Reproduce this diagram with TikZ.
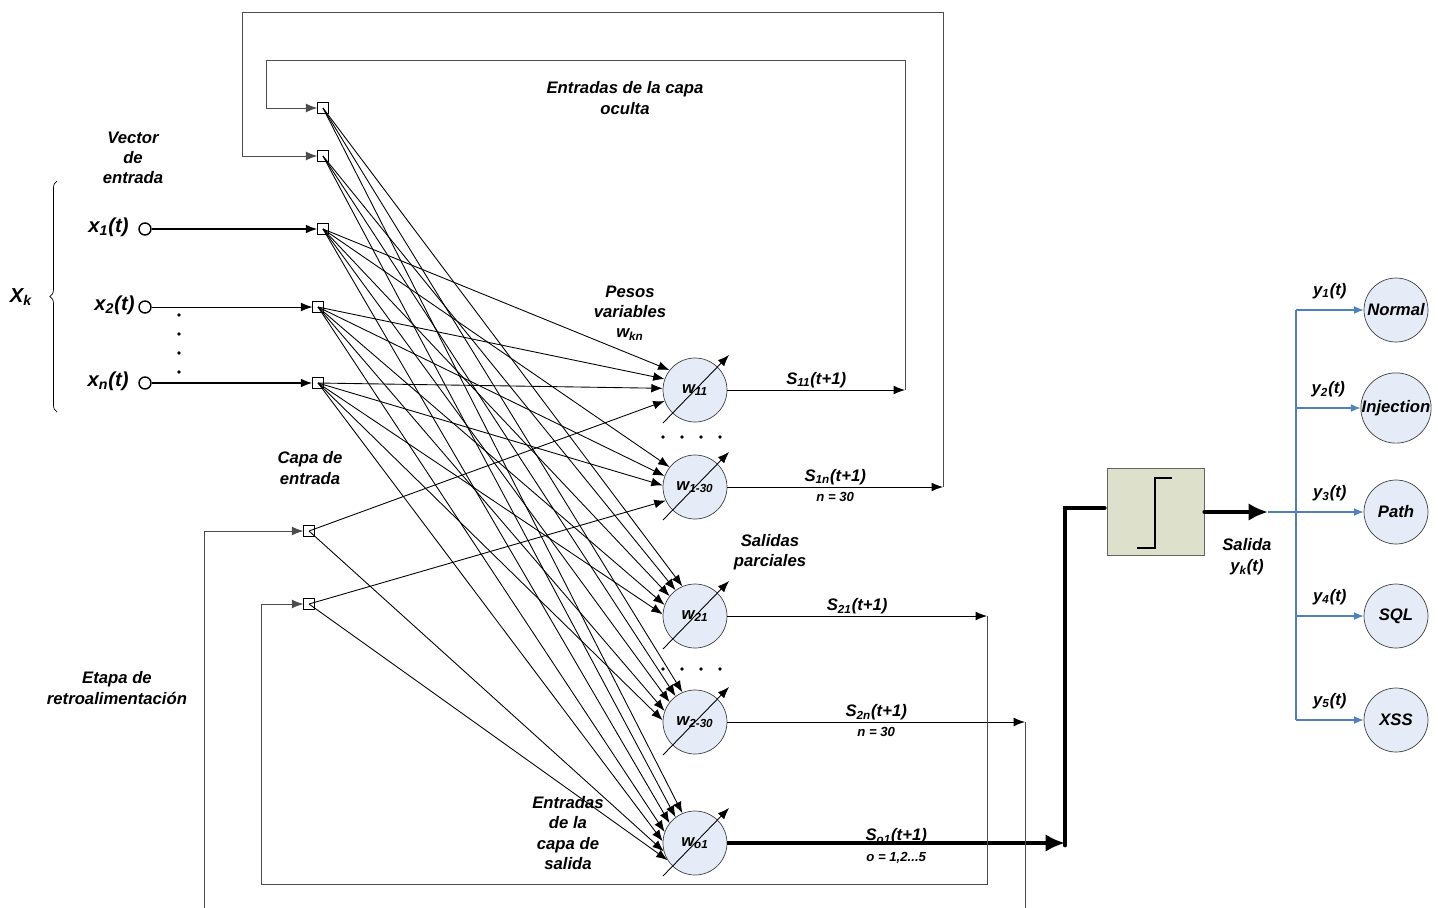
\documentclass[tikz,border=0pt]{standalone}
\usepackage{fontspec}
\setmainfont{Liberation Sans}
\usetikzlibrary{arrows.meta, positioning, calc, decorations.pathreplacing}
\definecolor{nfill}{RGB}{230,236,247}
\definecolor{blkfill}{RGB}{221,224,203}
\definecolor{outblue}{RGB}{79,129,189}
\newcommand{\idx}[1]{\textsubscript{#1}}

\begin{document}
\begin{tikzpicture}[
    x=0.02cm, y=-0.02cm,
    lbl/.style={font=\fontsize{9.5}{11.5}\selectfont\bfseries\itshape, align=center, inner sep=0pt},
    var/.style={font=\fontsize{11.5}{13}\selectfont\bfseries\itshape, inner sep=0pt},
    small/.style={font=\fontsize{7.5}{9}\selectfont\bfseries\itshape, inner sep=0pt},
    sq/.style={draw, minimum size=0.21cm, inner sep=0pt},
    inp/.style={draw, circle, thick, minimum size=0.24cm, inner sep=0pt},
    neuron/.style={draw=black!75, circle, fill=nfill, minimum size=1.28cm, inner sep=0pt, font=\fontsize{9.5}{11}\selectfont\bfseries\itshape},
    arrow/.style={-{Latex[length=6.5pt,width=5pt]}, line width=0.5pt},
    loop/.style={arrow, draw=black!70},
    bigarrow/.style={-{Latex[length=11pt,width=10pt]}, line width=2.8pt},
    blue arrow/.style={-{Latex[length=5.5pt,width=4.5pt]}, draw=outblue, line width=0.7pt}
]
    \path[use as bounding box] (0,0) rectangle (1438,907);
    \clip (0,0) rectangle (1438,907);

    \node[sq] (h1) at (323,108) {};
    \node[sq] (h2) at (323,156) {};
    \node[sq] (s1) at (323,229) {};
    \node[sq] (s2) at (318,307) {};
    \node[sq] (sn) at (318,383) {};
    \node[sq] (f1) at (309,531) {};
    \node[sq] (f2) at (309,604) {};

    \node[inp] (x1) at (145,229) {};
    \node[inp] (x2) at (145,307) {};
    \node[inp] (xn) at (145,383) {};
    \node[var, anchor=east] (lx1) at (129,227) {x\idx{1}(t)};
    \node[var, anchor=east] (lx2) at (135,305) {x\idx{2}(t)};
    \node[var, anchor=east] (lxn) at (129,381) {x\idx{n}(t)};
    \node[var] (xk) at (21,297) {X\idx{k}};
    \draw[decorate, decoration={brace, amplitude=4pt}] (57,412) -- (57,181);
    \foreach \y in {315,334,353,372} \fill (179,\y) circle (1.1pt);

    \draw[arrow, line width=1.1pt] (x1) -- (s1);
    \draw[arrow] (x2) -- (s2);
    \draw[arrow, line width=1.1pt] (xn) -- (sn);

    \node[neuron] (n11) at (695,390) {w\idx{11}};
    \node[neuron] (n130) at (695,487) {w\idx{1-30}};
    \node[neuron] (n21) at (695,616) {w\idx{21}};
    \node[neuron] (n230) at (695,722) {w\idx{2-30}};
    \node[neuron] (no1) at (695,843) {w\idx{o1}};
    \foreach \x in {663,682,701,720} {
        \fill (\x,437) circle (1.1pt);
        \fill (\x,669) circle (1.1pt);
    }

    \foreach \s/\a in {s1/142,s2/160,sn/177}
        \foreach \n in {n11,n130,n21,n230,no1}
            \draw[arrow] (\s.center) -- (\n.\a);
    \foreach \s/\a in {h1/113,h2/127}
        \foreach \n in {n21,n230,no1}
            \draw[arrow] (\s.center) -- (\n.\a);
    \draw[arrow] (f1.center) -- (n11.200);
    \draw[arrow] (f1.center) -- (no1.195);
    \draw[arrow] (f2.center) -- (n130.205);
    \draw[arrow] (f2.center) -- (no1.212);
    \foreach \n in {n11,n130,n21,n230,no1}
        \draw[arrow] ($(\n)+(-32,33)$) -- ($(\n)+(34,-35)$);

    \coordinate (c11) at (905,390);
    \coordinate (c1n) at (943,487);
    \coordinate (c21) at (987,616);
    \coordinate (c2n) at (1025,722);
    \coordinate (cout) at (1065,843);
    \draw[arrow] (n11) -- node[lbl, above=1pt] (ls11) {S\idx{11}(t+1)} (c11);
    \draw[arrow] (n130) -- node[lbl, above=1pt] (ls1n) {S\idx{1n}(t+1)}
        node[small, below=3pt] (ln1) {n = 30} (c1n);
    \draw[arrow] (n21) -- node[lbl, above=1pt] (ls21) {S\idx{21}(t+1)} (c21);
    \draw[arrow] (n230) -- node[lbl, above=1pt] (ls2n) {S\idx{2n}(t+1)}
        node[small, below=3pt] (ln2) {n = 30} (c2n);
    \draw[bigarrow] (no1) -- node[lbl, above=-2pt] (lso1) {S\idx{o1}(t+1)}
        node[small, below=4pt] (lo) {o = 1,2...5} (cout);

    \draw[loop] (c11) -- (905,60) -| (266,108) -- (h1);
    \draw[loop] (c1n) -- (943,12) -| (242,156) -- (h2);
    \draw[loop] (c21) -- (987,884) -| (261,604) -- (f2);
    \draw[loop] (c2n) -- (1025,940) -| (204,531) -- (f1);

    \node[draw=black!60, fill=blkfill, minimum width=1.94cm, minimum height=1.74cm] (blk) at (1156,512) {};
    \draw[line width=0.6pt] ($(blk)+(-19,36)$) -- ($(blk)+(-1,36)$) -- ($(blk)+(-1,-34)$) -- ($(blk)+(16,-34)$);
    \draw[line width=2.8pt, line cap=round] ($(cout)+(0,2)$) |- ($(blk.west)+(-3,-4)$);
    \coordinate (fork) at (1268,512);
    \coordinate (trunk) at (1296,512);
    \draw[bigarrow, line cap=round] (blk.east) -- (fork);
    \node[lbl, below=15pt of fork, xshift=-12pt] (sal) {Salida\\y\idx{k}(t)};

    \node[neuron] (c1) at (1396,310) {Normal};
    \node[neuron] (c2) at (1396,408) {Injection};
    \node[neuron] (c3) at (1396,512) {Path};
    \node[neuron] (c4) at (1396,616) {SQL};
    \node[neuron] (c5) at (1396,720) {XSS};
    \draw[draw=outblue, line width=0.9pt] (fork) -- (trunk);
    \draw[draw=outblue, line width=0.7pt] (c1 -| trunk) -- (c5 -| trunk);
    \foreach \c/\i in {c1/1,c2/2,c3/3,c4/4,c5/5}
        \draw[blue arrow] (\c -| trunk) -- node[lbl, above=6pt] (ly\i) {y\idx{\i}(t)} (\c);

    \node[lbl] (vec) at (133,158) {Vector\\de\\entrada};
    \node[lbl] (hid) at (625,98) {Entradas de la capa\\oculta};
    \node[lbl] (pesos) at (630,313) {Pesos\\variables\\w\idx{kn}};
    \node[lbl] (capa) at (310,468) {Capa de\\entrada};
    \node[lbl] (etapa) at (117,688) {Etapa de\\retroalimentación};
    \node[lbl] (parc) at (770,552) {Salidas\\parciales};
    \node[lbl] (outin) at (568,833) {Entradas\\de la\\capa de\\salida};
\end{tikzpicture}
\end{document}
